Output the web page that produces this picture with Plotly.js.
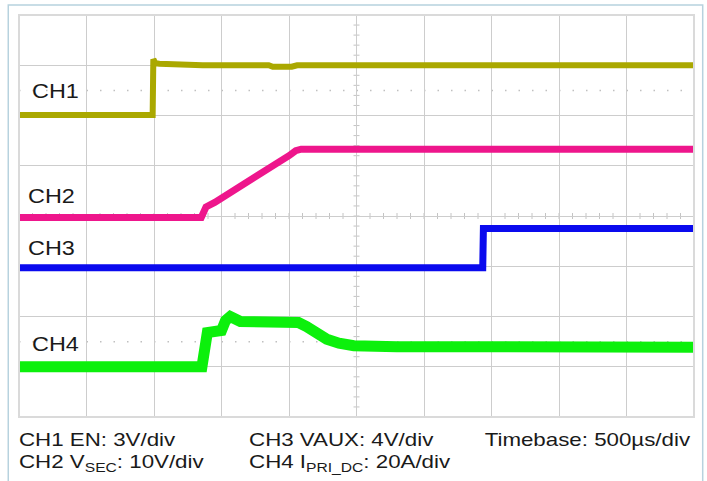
<!DOCTYPE html>
<html>
<head>
<meta charset="utf-8">
<script src="https://cdn.plot.ly/plotly-3.0.1.min.js"></script>
<style>
  html, body { margin: 0; padding: 0; background: #ffffff; }
  #chart { width: 707px; height: 481px; }
</style>
</head>
<body>
<div id="chart"></div>
<script>
// Time axis in microseconds (500 us/div, 10 divisions); vertical axis in screen divisions (8).
const ch1_t = [0, 990, 995, 1010, 1040, 1360, 1850, 1880, 2020, 2060, 5000];
const ch1_v = [6.01, 6.01, 7.12, 7.04, 7.03, 7.0, 7.0, 6.97, 6.97, 7.0, 7.0];

const ch2_t = [0, 1350, 1385, 1450, 2000, 2050, 2090, 5000];
const ch2_v = [3.97, 3.97, 4.18, 4.27, 5.20, 5.30, 5.33, 5.33];

const ch3_t = [0, 3435, 3440, 5000];
const ch3_v = [2.97, 2.97, 3.75, 3.75];

const ch4_t = [0, 1355, 1395, 1500, 1530, 1565, 1640, 2070, 2130, 2200, 2280, 2370, 2480, 2800, 5000];
const ch4_v = [1.00, 1.00, 1.68, 1.72, 1.92, 2.00, 1.90, 1.88, 1.80, 1.66, 1.55, 1.47, 1.42, 1.40, 1.39];

const channelNames = ['CH1', 'CH2', 'CH3', 'CH4'];
const scaleLabels = [
  'CH1 EN: 3V/div',
  'CH2 V<sub>SEC</sub>: 10V/div',
  'CH3 VAUX: 4V/div',
  'CH4 I<sub>PRI_DC</sub>: 20A/div',
  'Timebase: 500µs/div'
];

const traces = [
  {x: ch1_t, y: ch1_v, mode: 'lines', line: {color: '#AAA800', width: 6}},
  {x: ch2_t, y: ch2_v, mode: 'lines', line: {color: '#EE168C', width: 7}},
  {x: ch3_t, y: ch3_v, mode: 'lines', line: {color: '#0A0AEE', width: 7}},
  {x: ch4_t, y: ch4_v, mode: 'lines', line: {color: '#0CF00C', width: 11}}
];

const shapes = [];
// center-line minor ticks
for (let i = 0; i <= 50; i++) {
  shapes.push({type: 'line', xref: 'x', yref: 'y', x0: i * 100, x1: i * 100,
    ysizemode: 'pixel', yanchor: 4, y0: -3, y1: 3, layer: 'below',
    line: {color: '#C4C4C4', width: 1}});
}
for (let j = 0; j <= 40; j++) {
  shapes.push({type: 'line', xref: 'x', yref: 'y', y0: j * 0.2, y1: j * 0.2,
    xsizemode: 'pixel', xanchor: 2500, x0: -3, x1: 3, layer: 'below',
    line: {color: '#C4C4C4', width: 1}});
}
// dotted marker lines
[6.5, 1.5].forEach(function (yy) {
  shapes.push({type: 'line', xref: 'x', yref: 'y', x0: 0, x1: 5000, y0: yy, y1: yy,
    layer: 'below', line: {color: '#C0C0C0', width: 1.5, dash: '1.5px,12px'}});
});
// graticule border
shapes.push({type: 'rect', xref: 'paper', yref: 'paper', x0: 0, x1: 1, y0: 0, y1: 1,
  layer: 'above', line: {color: '#DADADA', width: 2}});
// outer frame
shapes.push({type: 'rect', xref: 'paper', yref: 'paper', x0: -0.0159, x1: 1.0129, y0: -0.17, y1: 1.0249,
  layer: 'above', line: {color: '#B7D2DE', width: 1.5}});

const fLab = {family: 'Liberation Sans, Arial, sans-serif', size: 19.5, color: '#1a1a1a'};
const fBot = {family: 'Liberation Sans, Arial, sans-serif', size: 18.6, color: '#1a1a1a'};
function ann(text, x, y, xanchor, font) {
  return {text: text, xref: 'paper', yref: 'paper', x: x, y: y, xanchor: xanchor, yanchor: 'middle',
    showarrow: false, borderpad: 0, font: font};
}
const annotations = [
  ann(channelNames[0], 0.0173, 0.8109, 'left', fLab),
  ann(channelNames[1], 0.0118, 0.5498, 'left', fLab),
  ann(channelNames[2], 0.0114, 0.4204, 'left', fLab),
  ann(channelNames[3], 0.0173, 0.1823, 'left', fLab),
  ann(scaleLabels[0], -0.001, -0.0572, 'left', fBot),
  ann(scaleLabels[1], -0.001, -0.1144, 'left', fBot),
  ann(scaleLabels[2], 0.3397, -0.0572, 'left', fBot),
  ann(scaleLabels[3], 0.3397, -0.1144, 'left', fBot),
  ann(scaleLabels[4], 0.9966, -0.0572, 'right', fBot)
];

const layout = {
  width: 707, height: 481,
  margin: {l: 19, r: 13, t: 15, b: 64, pad: 0},
  paper_bgcolor: '#ffffff', plot_bgcolor: '#ffffff',
  showlegend: false,
  xaxis: {range: [0, 5000], dtick: 500, tick0: 0, showgrid: true, gridcolor: '#CDCDCD', gridwidth: 1,
    zeroline: false, showticklabels: false, ticks: '', showline: false, fixedrange: true},
  yaxis: {range: [0, 8], dtick: 1, tick0: 0, showgrid: true, gridcolor: '#CDCDCD', gridwidth: 1,
    zeroline: false, showticklabels: false, ticks: '', showline: false, fixedrange: true},
  shapes: shapes,
  annotations: annotations
};

Plotly.newPlot('chart', traces, layout, {staticPlot: true, displayModeBar: false}).then(function (gd) {
  // widen the lettering horizontally like the scope's screen font
  const s = 1.2;
  const texts = gd.querySelectorAll('text.annotation-text');
  texts.forEach(function (t, k) {
    const bb = t.getBBox();
    const rightAnchored = (k === annotations.length - 1);
    const ax = rightAnchored ? bb.x + bb.width : bb.x;
    const prev = t.getAttribute('transform') || '';
    t.setAttribute('transform', prev + ' translate(' + (ax * (1 - s)) + ',0) scale(' + s + ',1)');
  });
});
</script>
</body>
</html>
